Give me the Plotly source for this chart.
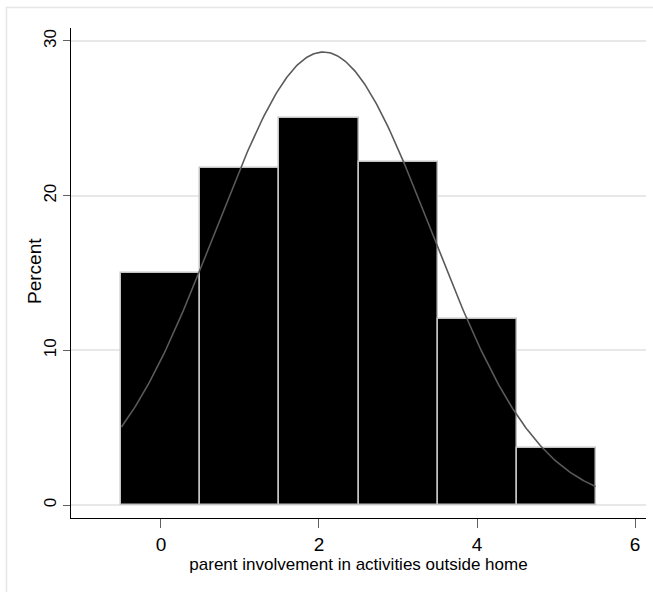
import numpy as np
import plotly.graph_objects as go

# Histogram: percent of respondents at each involvement score
scores = [0, 1, 2, 3, 4, 5]
percents = [15.0, 21.8, 25.0, 22.2, 12.0, 3.7]
x_ticks = [0, 2, 4, 6]
y_ticks = [0, 10, 20, 30]

# Normal density overlay fitted to the histogram (mean and sd of the binned data),
# scaled to percent per unit-width bin
w = np.array(percents) / np.sum(percents)
s = np.array(scores, dtype=float)
mu = float(np.sum(w * s))
sd = float(np.sqrt(np.sum(w * (s - mu) ** 2)))
xc = np.linspace(min(scores) - 0.5, max(scores) + 0.5, 300)
yc = 100.0 / (sd * np.sqrt(2 * np.pi)) * np.exp(-0.5 * ((xc - mu) / sd) ** 2)

fig = go.Figure()
fig.add_trace(go.Bar(
    x=scores, y=percents, width=1,
    marker=dict(color="#000000", line=dict(color="#c4c4c4", width=1.5)),
    hoverinfo="skip",
))
fig.add_trace(go.Scatter(
    x=xc, y=yc, mode="lines",
    line=dict(color="#5a5a5a", width=1.6),
    hoverinfo="skip",
))

L, R, T, B = 71, 7, 28, 74
W, H = 653, 592
pw, ph = W - L - R, H - T - B

def px_to_paper_x(px):
    return (px - L) / pw

def px_to_paper_y(py):
    return (H - B - py) / ph

# light frame around the graph region
fig.add_shape(type="rect", xref="paper", yref="paper",
              x0=px_to_paper_x(6.5), x1=px_to_paper_x(660),
              y0=px_to_paper_y(600), y1=px_to_paper_y(7.5),
              line=dict(color="#e6e6e6", width=1.5), fillcolor="rgba(0,0,0,0)",
              layer="below")

# y-axis title
fig.add_annotation(text="Percent", xref="paper", yref="paper",
                   x=px_to_paper_x(34), y=px_to_paper_y(271),
                   xanchor="center", yanchor="middle", textangle=-90,
                   showarrow=False, font=dict(size=19, color="#000000"))

fig.update_layout(
    width=W, height=H,
    margin=dict(l=L, r=R, t=T, b=B, pad=0),
    paper_bgcolor="white", plot_bgcolor="white",
    showlegend=False, bargap=0,
    font=dict(family="Liberation Sans, Arial, sans-serif", color="#000000"),
    xaxis=dict(
        range=[-1.138, 6.138],
        tickvals=x_ticks, ticktext=[str(v) for v in x_ticks],
        showgrid=False, zeroline=False,
        showline=True, linecolor="#000000", linewidth=1.3,
        ticks="outside", ticklen=9, tickwidth=1.3, tickcolor="#606060",
        tickfont=dict(size=19),
        title=dict(text="parent involvement in activities outside home",
                   font=dict(size=17),
                   standoff=4),
    ),
    yaxis=dict(
        range=[-0.84, 30.84],
        tickvals=y_ticks, ticktext=[str(v) for v in y_ticks],
        tickangle=-90,
        showgrid=True, gridcolor="#e8e8e8", gridwidth=1.5,
        zeroline=False,
        showline=True, linecolor="#000000", linewidth=1.3,
        ticks="outside", ticklen=7, tickwidth=1.3, tickcolor="#606060",
        tickfont=dict(size=17),
    ),
)

fig.write_html("out.html")
